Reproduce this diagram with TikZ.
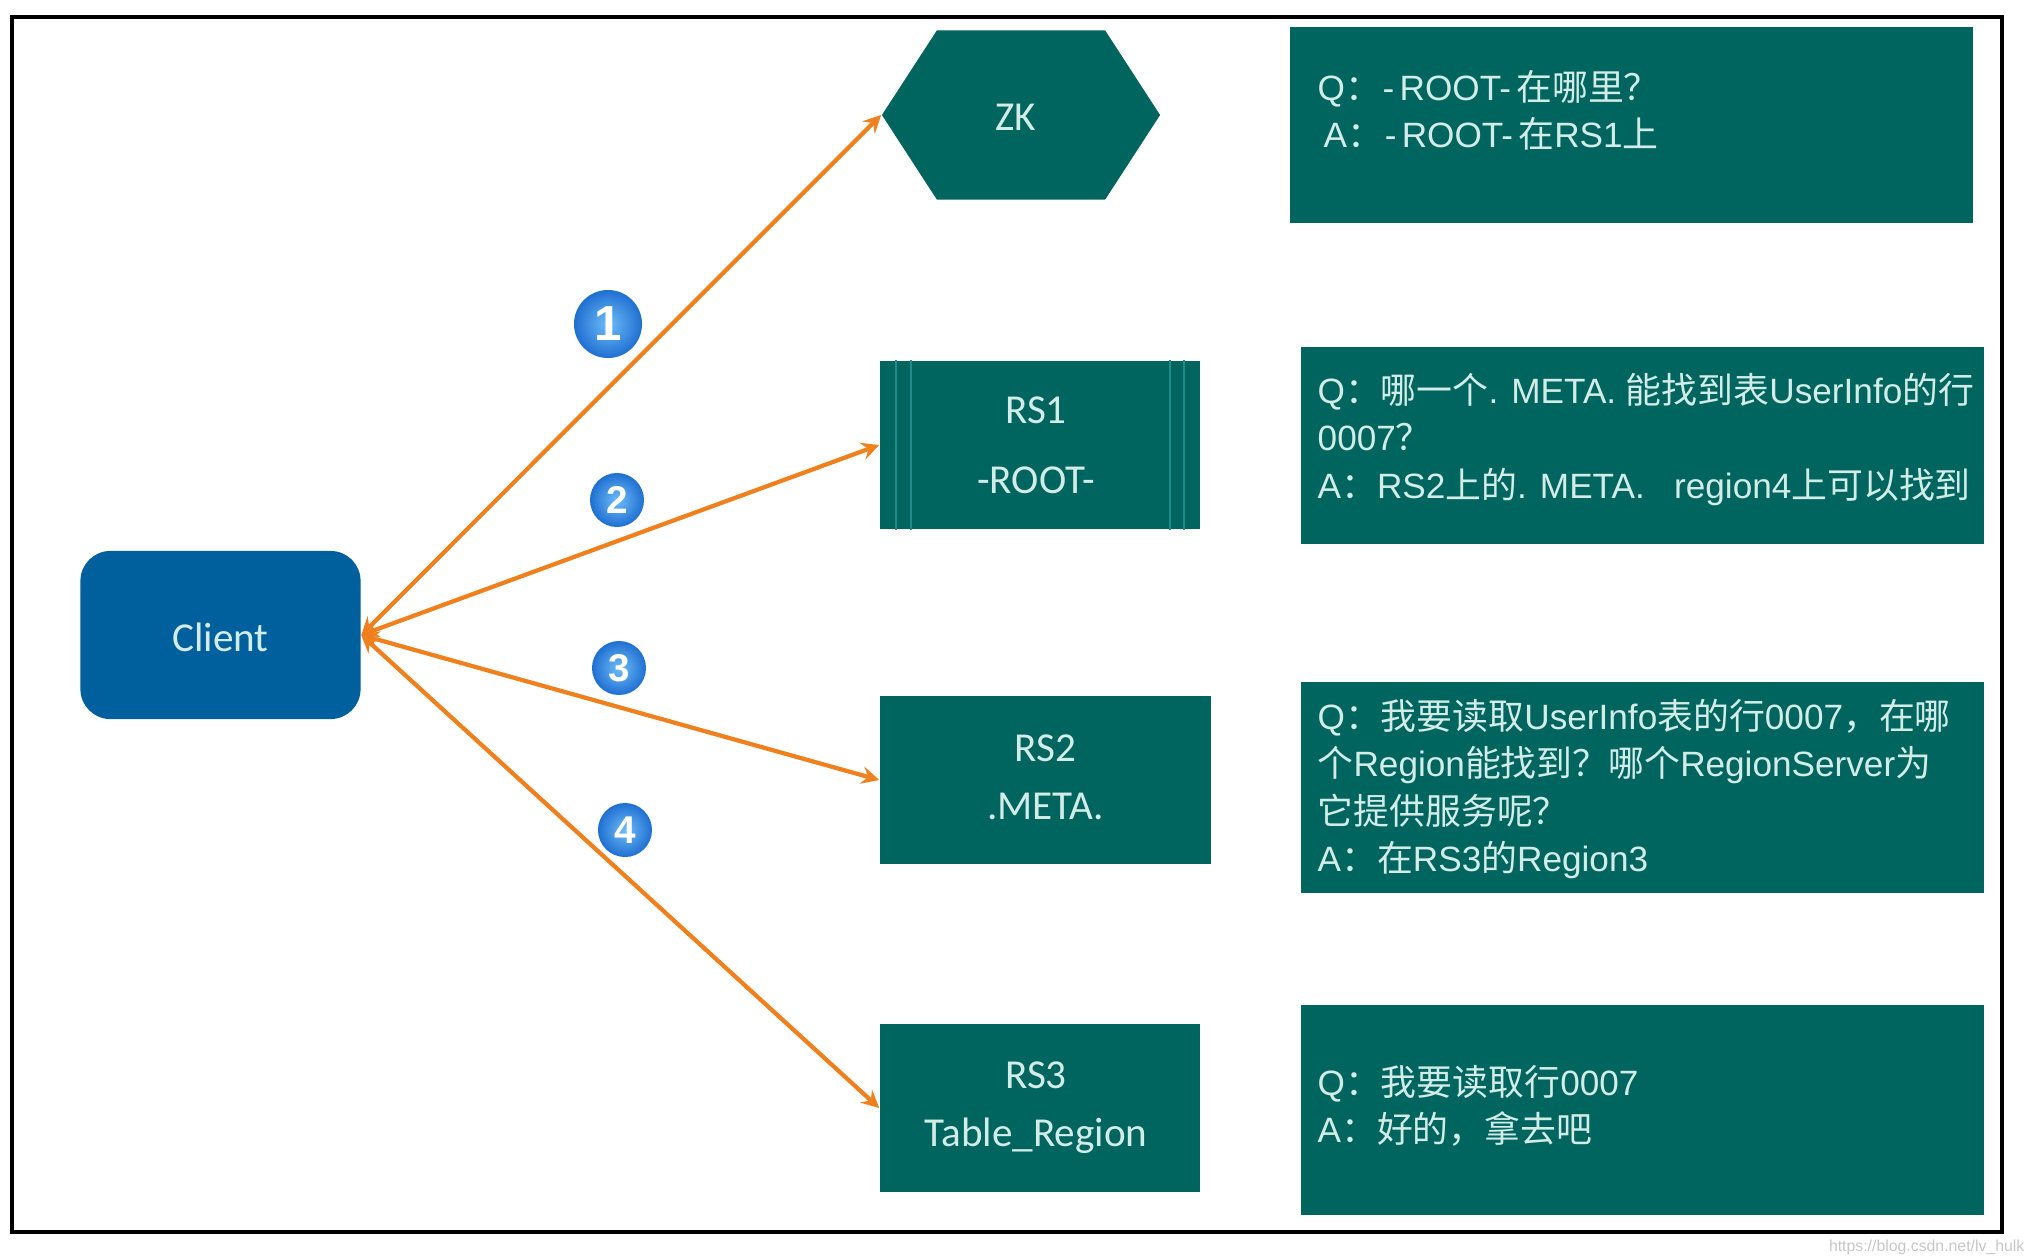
\documentclass[tikz,border=0pt]{standalone}
\usepackage{fontspec}
\setmainfont{Liberation Sans}
\newfontfamily\cjk[Scale=1.02]{Noto Sans CJK SC}
\newfontfamily\labelfont{Carlito}
\usetikzlibrary{shapes.symbols}
\definecolor{boxteal}{HTML}{00645F}
\definecolor{stripeteal}{HTML}{1E8C8A}
\definecolor{clientblue}{HTML}{00609E}
\definecolor{paletext}{HTML}{D2ECE8}
\definecolor{arroworange}{HTML}{F0801E}
\definecolor{badgelight}{HTML}{6FBDF7}
\definecolor{badgedark}{HTML}{1F6FD2}
\newcommand{\zh}[1]{{\cjk #1}}
\newcommand{\nudge}[2]{\raisebox{#1}[\height][\depth]{#2}}
\begin{document}
\begin{tikzpicture}[
    x=0.01cm, y=-0.01cm,
    server/.style={rectangle, fill=boxteal, inner sep=0pt, text=paletext, align=center,
      minimum height=1.68cm, font=\labelfont\fontsize{11.7}{16.5}\selectfont},
    answerbox/.style={rectangle, fill=boxteal, inner sep=0pt, anchor=north west, minimum width=6.83cm},
    qatext/.style={inner sep=0pt, anchor=north west, align=left, text=paletext,
      font=\fontsize{10}{13.5}\selectfont},
    flow/.style={arroworange, <->, >=stealth, line width=1.2pt},
    stripe/.style={stripeteal, line width=0.6pt},
    badge/.style={circle, inner sep=0pt, inner color=badgelight, outer color=badgedark,
      text=white, font=\bfseries\fontsize{11}{11}\selectfont},
]
    \useasboundingbox (0,0) rectangle (2027,1257);

    % Outer frame
    \draw[black, line width=0.9pt] (12,17) rectangle (2002,1232);

    % Client on the left
    \node[rectangle, rounded corners=8.5pt, fill=clientblue, inner sep=0pt, text=paletext,
      minimum width=2.8cm, minimum height=1.68cm, font=\labelfont\fontsize{11.7}{14}\selectfont]
      (client) at (220.5,635) {\nudge{-0.75pt}{Client}};

    % Servers in the middle column
    \node[server, shape=signal, signal to=west and east, signal pointer angle=114,
      minimum width=2.78cm, minimum height=1.69cm] (zk) at (1021,115) {\hspace*{-0.1cm}\nudge{-0.75pt}{ZK}};
    \node[server, minimum width=3.2cm] (rs1) at (1040,445) {\hspace*{-0.08cm}RS1\\[3.5pt]\hspace*{-0.08cm}-ROOT-};
    \node[server, minimum width=3.31cm] (rs2) at (1045.5,780) {\nudge{0.75pt}{RS2}\\\nudge{0.75pt}{.META.}};
    \node[server, minimum width=3.2cm] (rs3) at (1040,1108) {\hspace*{-0.08cm}RS3\\\hspace*{-0.08cm}Table\_Region};

    % Double stripes on RS1
    \draw[stripe] ([xshift=0.17cm]rs1.north west) -- ([xshift=0.17cm]rs1.south west);
    \draw[stripe] ([xshift=0.32cm]rs1.north west) -- ([xshift=0.32cm]rs1.south west);
    \draw[stripe] ([xshift=-0.31cm]rs1.north east) -- ([xshift=-0.31cm]rs1.south east);
    \draw[stripe] ([xshift=-0.17cm]rs1.north east) -- ([xshift=-0.17cm]rs1.south east);

    % Question and answer boxes
    \node[answerbox, minimum height=1.96cm] (qa1) at (1289,26) {};
    \node[answerbox, minimum height=1.97cm] (qa2) at (1300,346) {};
    \node[answerbox, minimum height=2.11cm] (qa3) at (1300,681) {};
    \node[answerbox, minimum height=2.10cm] (qa4) at (1300,1004) {};

    \node[qatext] (qt1) at (1317,69.5)
      {Q\zh{：}\hspace{0.5pt}-\hspace{1.5pt}ROOT-\hspace{1.5pt}\zh{在哪里？}\\\hspace*{0.06cm}A\zh{：}\hspace{0.5pt}-\hspace{1.5pt}ROOT-\hspace{1.5pt}\zh{在}RS1\zh{上}};
    \node[qatext] (qt2) at (1317,372.5)
      {Q\zh{：哪一个}. META. \zh{能找到表}UserInfo\zh{的行}\\0007\zh{？}\\A\zh{：}RS2\zh{上的}. META.\ \ \ region4\zh{上可以找到}};
    \node[qatext] (qt3) at (1317,698.5)
      {Q\zh{：我要读取}UserInfo\zh{表的行}0007\zh{，在哪}\\\zh{个}Region\zh{能找到？哪个}RegionServer\zh{为}\\\zh{它提供服务呢？}\\A\zh{：在}RS3\zh{的}Region3};
    \node[qatext] (qt4) at (1317,1064.5)
      {Q\zh{：我要读取行}0007\\A\zh{：好的，拿去吧}};

    % Connectors from the client
    \draw[flow] (client.east) -- (zk.west);
    \draw[flow] (client.east) -- (rs1.west);
    \draw[flow] (client.east) -- (rs2.west);
    \draw[flow] (client.east) -- (rs3.west);

    % Step numbers
    \node[badge, minimum size=0.68cm, font=\bfseries\fontsize{14}{14}\selectfont] (step1) at (608,324) {1};
    \node[badge, minimum size=0.54cm] (step2) at (617,500) {2};
    \node[badge, minimum size=0.54cm] (step3) at (619,668) {3};
    \node[badge, minimum size=0.54cm] (step4) at (625,830) {4};

    % Site address, bottom right
    \node[inner sep=0pt, anchor=south east, black!22, font=\fontsize{4.5}{6}\selectfont] (site) at (2025,1255)
      {https://blog.csdn.net/lv\_hulk};
\end{tikzpicture}
\end{document}
